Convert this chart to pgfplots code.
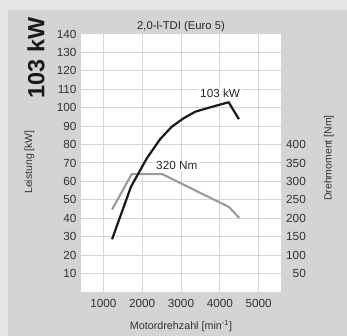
\documentclass[border=0pt]{standalone}
\usepackage{fontspec}
\setmainfont{Liberation Sans}
\usepackage{pgfplots}
\pgfplotsset{compat=1.18}
\definecolor{outerbg}{HTML}{E6E7E9}
\definecolor{panelbg}{HTML}{D3D4D6}
\definecolor{gridc}{HTML}{D6D6D6}
\definecolor{torq}{HTML}{9A9A9A}
\newcommand{\sz}{\fontsize{11.8}{13}\selectfont}
\begin{document}
\begin{tikzpicture}[x=1bp,y=1bp]
\fill[outerbg] (0,0) rectangle (347,336);
\fill[panelbg] (8,0) rectangle (347,326);
% torque axis (drawn first: background, grid, right ticks)
\begin{axis}[at={(81bp,44bp)}, anchor=south west,
  width=200bp, height=258bp, scale only axis,
  xmin=425, xmax=5575, ymin=0, ymax=700,
  axis background/.style={fill=white},
  axis line style={draw=none},
  axis y line*=right,
  xtick={1000,2000,3000,4000,5000},
  ytick={50,100,...,700},
  yticklabels={50,100,150,200,250,300,350,400,{},{},{},{},{},{}},
  grid=major, major grid style={gridc, line width=1bp},
  tick style={draw=none},
  /pgf/number format/assume math mode=true,
  /pgf/number format/1000 sep={},
  xticklabel style={font=\sz, anchor=center, yshift=-11.5bp, text=black!80},
  yticklabel style={font=\sz, anchor=east, inner sep=0pt, xshift=25bp, text=black!80},
  clip=false,
]
\addplot[torq, line width=2.1bp] coordinates {
  (1225,224) (1732,320) (2513,320) (4229,231) (4500,201)
};
\node[fill=white, inner sep=1.2bp, font=\sz, text=black!85] at (axis cs:2892,342) {320 Nm};
\end{axis}
% power axis (left ticks, black curve on top)
\begin{axis}[at={(81bp,44bp)}, anchor=south west,
  width=200bp, height=258bp, scale only axis,
  xmin=425, xmax=5575, ymin=0, ymax=140,
  axis line style={draw=none},
  axis y line*=left,
  xtick=\empty,
  ytick={10,20,...,140},
  tick style={draw=none},
  /pgf/number format/assume math mode=true,
  yticklabel style={font=\sz, anchor=east, inner sep=0pt, xshift=-4.3bp, text=black!80},
  clip=false,
]
\addplot[black!90, line width=2.2bp] coordinates {
  (1225,28.6) (1711,57.1) (2119,72.5) (2461,82.9) (2763,89.7)
  (3062,94.2) (3363,97.8) (3750,100.2) (4180,102.7) (4230,102.9) (4490,93.8)
};
\node[fill=white, inner sep=1.2bp, font=\sz, text=black!85] at (axis cs:4008,108) {103 kW};
\end{axis}
\node[font=\fontsize{11.3}{13}\selectfont, text=black!85] at (181,309) {2,0-l-TDI (Euro 5)};
\node[rotate=90, font=\fontsize{23.5}{26}\bfseries, text=black!90] at (36,278) {103 kW};
\node[rotate=90, font=\fontsize{10.5}{12}\selectfont, text=black!80] at (29.5,174) {Leistung [kW]};
\node[rotate=90, font=\fontsize{10.5}{12}\selectfont, text=black!80] at (329,178) {Drehmoment [Nm]};
\node[font=\fontsize{10.8}{12}\selectfont, text=black!80] at (181,9.5) {Motordrehzahl [min\textsuperscript{-1}]};
\end{tikzpicture}
\end{document}
